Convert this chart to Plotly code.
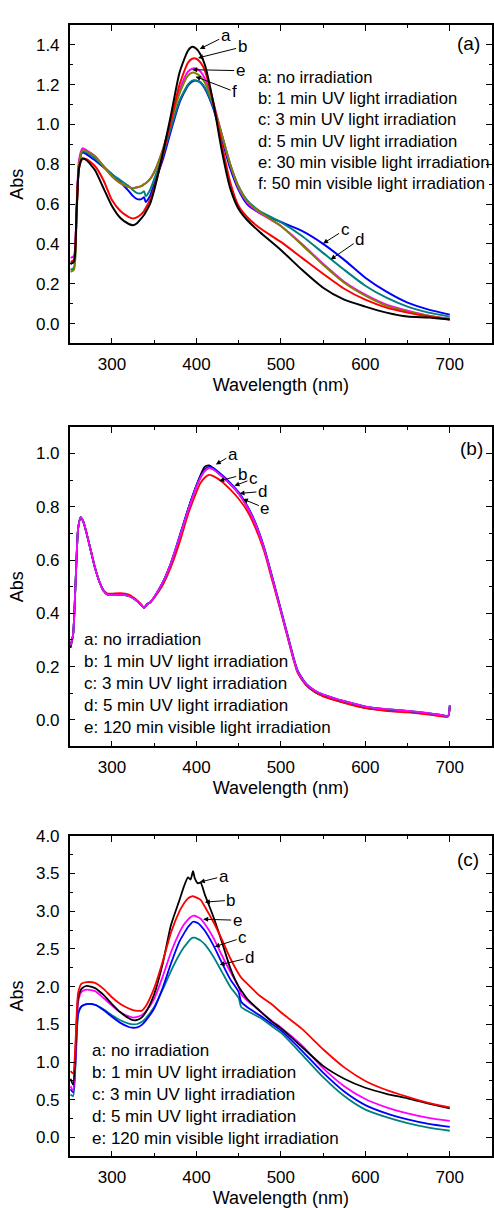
import plotly.graph_objects as go

FONT = "Liberation Sans, Arial, sans-serif"
W, H = 494, 1208

# ---------------- Panel (a) ----------------
wl_a = [251, 255, 258, 261, 265, 270, 280, 290, 300, 310, 320, 325, 330, 335, 338, 340, 345, 350,
        360, 370, 380, 390, 395, 400, 405, 410, 420, 430, 440, 450, 460, 475, 500, 525, 550, 575,
        600, 625, 650, 675, 700]
a_no = [0.30, 0.31, 0.55, 0.78, 0.83, 0.82, 0.77, 0.68, 0.59, 0.53, 0.50, 0.494, 0.505, 0.53, 0.545, 0.56, 0.60, 0.67,
        0.85, 1.05, 1.26, 1.37, 1.39, 1.38, 1.35, 1.30, 1.11, 0.87, 0.68, 0.575, 0.52, 0.46, 0.37, 0.27, 0.18, 0.12,
        0.085, 0.055, 0.035, 0.03, 0.02]
a_uv1 = [0.31, 0.32, 0.55, 0.78, 0.825, 0.825, 0.79, 0.72, 0.62, 0.565, 0.535, 0.528, 0.535, 0.55, 0.565, 0.58, 0.62, 0.68,
         0.84, 1.02, 1.20, 1.31, 1.33, 1.33, 1.31, 1.27, 1.11, 0.90, 0.71, 0.59, 0.535, 0.48, 0.41, 0.33, 0.25, 0.175,
         0.12, 0.08, 0.055, 0.035, 0.02]
a_uv3 = [0.30, 0.31, 0.55, 0.80, 0.86, 0.85, 0.82, 0.785, 0.75, 0.71, 0.665, 0.64, 0.625, 0.625, 0.635, 0.61, 0.64, 0.70,
         0.82, 0.97, 1.11, 1.195, 1.215, 1.22, 1.21, 1.18, 1.08, 0.93, 0.78, 0.67, 0.60, 0.555, 0.51, 0.465, 0.40, 0.32,
         0.23, 0.16, 0.105, 0.07, 0.045]
a_uv5 = [0.27, 0.28, 0.55, 0.80, 0.865, 0.86, 0.83, 0.79, 0.75, 0.72, 0.69, 0.67, 0.655, 0.655, 0.665, 0.64, 0.67, 0.725,
         0.84, 0.985, 1.12, 1.20, 1.22, 1.22, 1.21, 1.185, 1.09, 0.95, 0.80, 0.69, 0.62, 0.565, 0.51, 0.44, 0.355, 0.27,
         0.19, 0.13, 0.085, 0.055, 0.035]
a_vis30 = [0.33, 0.34, 0.57, 0.82, 0.88, 0.87, 0.84, 0.79, 0.74, 0.705, 0.685, 0.68, 0.685, 0.69, 0.70, 0.705, 0.725, 0.76,
           0.87, 1.02, 1.17, 1.265, 1.28, 1.28, 1.265, 1.23, 1.11, 0.95, 0.80, 0.68, 0.61, 0.555, 0.49, 0.40, 0.30, 0.21,
           0.145, 0.095, 0.065, 0.04, 0.025]
a_vis50 = [0.26, 0.27, 0.52, 0.80, 0.87, 0.865, 0.84, 0.79, 0.74, 0.705, 0.685, 0.68, 0.685, 0.69, 0.70, 0.705, 0.725, 0.76,
           0.87, 1.015, 1.155, 1.245, 1.26, 1.255, 1.24, 1.21, 1.10, 0.95, 0.80, 0.685, 0.615, 0.56, 0.49, 0.395, 0.295, 0.205,
           0.14, 0.09, 0.06, 0.04, 0.02]
legend_a = ["a: no irradiation", "b: 1 min UV light irradiation", "c: 3 min UV light irradiation",
            "d: 5 min UV light irradiation", "e: 30 min visible light irradiation",
            "f: 50 min visible light irradiation"]

# ---------------- Panel (b) ----------------
wl_b = [251, 254, 257, 260, 263, 266, 270, 275, 280, 285, 290, 295, 300, 310, 320, 330, 335, 338, 342, 345, 350,
        360, 370, 380, 390, 400, 405, 410, 415, 420, 430, 440, 450, 460, 470, 480, 490, 500, 505, 510, 515, 520,
        530, 540, 550, 575, 600, 625, 650, 675, 690, 698, 700]
b_no = [0.27, 0.32, 0.52, 0.72, 0.76, 0.745, 0.70, 0.635, 0.57, 0.52, 0.485, 0.47, 0.468, 0.47, 0.465, 0.445, 0.43, 0.42, 0.435, 0.44, 0.46,
        0.515, 0.59, 0.685, 0.79, 0.88, 0.92, 0.95, 0.955, 0.945, 0.915, 0.885, 0.85, 0.80, 0.735, 0.645, 0.53, 0.41, 0.35, 0.29, 0.23, 0.18,
        0.13, 0.105, 0.09, 0.065, 0.045, 0.035, 0.03, 0.022, 0.016, 0.013, 0.05]
b_uv1 = [0.28, 0.32, 0.52, 0.72, 0.76, 0.745, 0.70, 0.635, 0.57, 0.52, 0.487, 0.474, 0.474, 0.476, 0.47, 0.448, 0.432, 0.422, 0.436, 0.44, 0.458,
         0.505, 0.575, 0.665, 0.77, 0.855, 0.89, 0.91, 0.92, 0.915, 0.895, 0.865, 0.83, 0.785, 0.72, 0.635, 0.52, 0.405, 0.345, 0.285, 0.225, 0.175,
         0.13, 0.105, 0.088, 0.064, 0.044, 0.034, 0.028, 0.02, 0.013, 0.012, 0.05]
b_uv3 = [0.28, 0.32, 0.52, 0.72, 0.76, 0.745, 0.70, 0.635, 0.57, 0.52, 0.485, 0.47, 0.468, 0.47, 0.465, 0.445, 0.43, 0.42, 0.435, 0.44, 0.46,
         0.515, 0.59, 0.69, 0.79, 0.88, 0.915, 0.94, 0.95, 0.945, 0.92, 0.89, 0.855, 0.805, 0.74, 0.65, 0.535, 0.415, 0.355, 0.295, 0.235, 0.185,
         0.135, 0.11, 0.095, 0.07, 0.05, 0.04, 0.033, 0.024, 0.018, 0.015, 0.055]
b_uv5 = [0.28, 0.32, 0.52, 0.72, 0.76, 0.745, 0.70, 0.635, 0.57, 0.52, 0.485, 0.47, 0.468, 0.47, 0.465, 0.445, 0.43, 0.42, 0.435, 0.44, 0.46,
         0.515, 0.59, 0.685, 0.785, 0.875, 0.91, 0.935, 0.945, 0.94, 0.915, 0.885, 0.85, 0.80, 0.735, 0.645, 0.53, 0.41, 0.35, 0.29, 0.23, 0.18,
         0.135, 0.11, 0.095, 0.07, 0.05, 0.04, 0.034, 0.025, 0.018, 0.015, 0.055]
b_vis120 = [0.28, 0.32, 0.52, 0.72, 0.76, 0.745, 0.70, 0.635, 0.57, 0.52, 0.485, 0.47, 0.468, 0.47, 0.465, 0.445, 0.43, 0.42, 0.435, 0.44, 0.46,
            0.515, 0.59, 0.685, 0.785, 0.875, 0.91, 0.935, 0.945, 0.94, 0.915, 0.885, 0.85, 0.80, 0.735, 0.645, 0.53, 0.41, 0.35, 0.29, 0.23, 0.18,
            0.135, 0.11, 0.095, 0.07, 0.05, 0.04, 0.034, 0.025, 0.018, 0.015, 0.055]
legend_bc = ["a: no irradiation", "b: 1 min UV light irradiation", "c: 3 min UV light irradiation",
             "d: 5 min UV light irradiation", "e: 120 min visible light irradiation"]

# ---------------- Panel (c) ----------------
wl_c = [251, 254, 257, 260, 264, 270, 280, 290, 300, 310, 320, 325, 330, 335, 340, 350, 360, 370, 380, 385,
        390, 393, 396, 398, 402, 405, 410, 420, 430, 440, 450, 453, 460, 475, 490, 500, 525, 550, 575, 600,
        625, 650, 675, 700]
c_no = [0.78, 0.70, 1.20, 1.85, 1.97, 2.01, 1.98, 1.89, 1.77, 1.66, 1.58, 1.555, 1.56, 1.59, 1.66, 1.90, 2.30, 2.82, 3.15, 3.32,
        3.45, 3.42, 3.53, 3.44, 3.37, 3.38, 3.22, 2.93, 2.60, 2.25, 2.00, 1.95, 1.84, 1.68, 1.53, 1.45, 1.20, 0.95, 0.78, 0.66,
        0.58, 0.52, 0.45, 0.385]
c_uv1 = [0.88, 0.85, 1.30, 1.92, 2.04, 2.06, 2.05, 1.97, 1.86, 1.77, 1.71, 1.69, 1.68, 1.68, 1.74, 1.98, 2.33, 2.72, 3.00, 3.10,
         3.17, 3.19, 3.20, 3.19, 3.17, 3.15, 3.06, 2.86, 2.63, 2.38, 2.17, 2.12, 2.04, 1.88, 1.76, 1.66, 1.44, 1.17, 0.93, 0.75,
         0.63, 0.54, 0.46, 0.40]
c_uv3 = [0.64, 0.60, 1.05, 1.65, 1.74, 1.77, 1.76, 1.69, 1.60, 1.52, 1.465, 1.455, 1.46, 1.49, 1.55, 1.71, 1.98, 2.31, 2.60, 2.70,
         2.79, 2.83, 2.86, 2.86, 2.84, 2.81, 2.74, 2.55, 2.32, 2.10, 1.93, 1.80, 1.73, 1.62, 1.50, 1.42, 1.15, 0.86, 0.61, 0.43,
         0.32, 0.24, 0.18, 0.14]
c_uv5 = [0.57, 0.55, 1.00, 1.63, 1.74, 1.77, 1.76, 1.70, 1.62, 1.555, 1.51, 1.50, 1.505, 1.53, 1.58, 1.73, 1.96, 2.21, 2.43, 2.52,
         2.59, 2.63, 2.65, 2.65, 2.63, 2.61, 2.56, 2.40, 2.20, 2.00, 1.85, 1.73, 1.68, 1.59, 1.47, 1.39, 1.10, 0.80, 0.55, 0.37,
         0.27, 0.19, 0.13, 0.09]
c_vis120 = [0.68, 0.62, 1.10, 1.80, 1.93, 1.96, 1.94, 1.85, 1.75, 1.66, 1.605, 1.59, 1.60, 1.62, 1.67, 1.84, 2.13, 2.46, 2.72, 2.82,
            2.89, 2.92, 2.94, 2.94, 2.92, 2.90, 2.83, 2.65, 2.42, 2.20, 2.00, 1.90, 1.82, 1.68, 1.54, 1.46, 1.22, 0.92, 0.68, 0.51,
            0.40, 0.32, 0.26, 0.22]

BLACK, RED, BLUE, TEAL, MAG, OLIVE = "#000000", "#ff0000", "#0000ff", "#008080", "#ff00ff", "#808000"

fig = go.Figure()

def add(x, y, color, xa, ya, width=2.0):
    fig.add_trace(go.Scatter(x=x, y=y, mode="lines", xaxis=xa, yaxis=ya, showlegend=False,
                             line=dict(color=color, width=width, shape="spline", smoothing=0.6)))

for ys, col in [(a_uv3, BLUE), (a_uv5, TEAL), (a_vis30, MAG), (a_vis50, OLIVE), (a_uv1, RED), (a_no, BLACK)]:
    add(wl_a, ys, col, "x", "y")
for ys, col in [(b_no, BLACK), (b_uv1, RED), (b_uv3, BLUE), (b_uv5, TEAL), (b_vis120, MAG)]:
    add(wl_b, ys, col, "x2", "y2", 1.8)
for ys, col in [(c_uv5, TEAL), (c_uv3, BLUE), (c_vis120, MAG), (c_no, BLACK), (c_uv1, RED)]:
    add(wl_c, ys, col, "x3", "y3", 1.8)

def ydom(top, bottom):
    return [1 - bottom / H, 1 - top / H]

xdom = [70 / W, 1.0]

def xaxis(anchor):
    return dict(domain=xdom, anchor=anchor, range=[250, 750], dtick=100, tick0=0,
                showline=True, linecolor="black", linewidth=1.5, mirror="ticks",
                ticks="inside", ticklen=6, tickwidth=1.3, tickcolor="black",
                minor=dict(ticks="inside", ticklen=3.5, tickwidth=1.1, tickcolor="black", dtick=50),
                showgrid=False, zeroline=False, ticklabelstandoff=4,
                tickfont=dict(size=17, family=FONT, color="black"),
                title=dict(text="Wavelength (nm)", font=dict(size=18, family=FONT, color="black"), standoff=6))

def yaxis(anchor, dom, rng, dt, mdt):
    return dict(domain=dom, anchor=anchor, range=rng, dtick=dt, tick0=0, tickformat=".1f",
                showline=True, linecolor="black", linewidth=1.5, mirror="ticks",
                ticks="inside", ticklen=6, tickwidth=1.3, tickcolor="black",
                minor=dict(ticks="inside", ticklen=3.5, tickwidth=1.1, tickcolor="black", dtick=mdt),
                showgrid=False, zeroline=False, ticklabelstandoff=5,
                tickfont=dict(size=17, family=FONT, color="black"),
                title=dict(text="Abs", font=dict(size=18, family=FONT, color="black"), standoff=8))

annotations = []

def txt(px, py, s, size=17, xanchor="left"):
    annotations.append(dict(x=px / W, y=1 - py / H, xref="paper", yref="paper", text=s, showarrow=False,
                            xanchor=xanchor, yanchor="middle", font=dict(size=size, family=FONT, color="black")))

def arrow(xr, yr, x, y, ax, ay, s):
    annotations.append(dict(x=x, y=y, xref=xr, yref=yr, ax=ax, ay=ay, text=s, showarrow=True,
                            arrowhead=2, arrowsize=1, arrowwidth=1, arrowcolor="black", standoff=0,
                            font=dict(size=17, family=FONT, color="black")))

# legends as text
for i, s in enumerate(legend_a):
    txt(257, 69 + i * 21.4, s, 16.6)
for i, s in enumerate(legend_bc):
    txt(82, 635 + i * 22.2, s)
for i, s in enumerate(legend_bc):
    txt(90, 1049 + i * 22.2, s)

txt(470, 35, "(a)", 19, "center")
txt(473, 443, "(b)", 19, "center")
txt(470, 857, "(c)", 19, "center")

# curve labels with arrows
arrow("x", "y", 404, 1.379, 26, -13, "a")
arrow("x", "y", 402, 1.334, 44, -11, "b")
arrow("x", "y", 395, 1.275, 48, 1, "e")
arrow("x", "y", 399, 1.240, 39, 15, "f")
arrow("x", "y", 550, 0.402, 22, -14, "c")
arrow("x", "y", 559, 0.322, 29, -20, "d")

arrow("x2", "y2", 423, 0.959, 17, -10, "a")
arrow("x2", "y2", 427, 0.897, 23, -6, "b")
arrow("x2", "y2", 445, 0.879, 19, -7, "c")
arrow("x2", "y2", 451, 0.850, 23, -2, "d")
arrow("x2", "y2", 455, 0.829, 22, 9, "e")

arrow("x3", "y3", 404, 3.386, 24, -6, "a")
arrow("x3", "y3", 410, 3.12, 26, -2, "b")
arrow("x3", "y3", 408, 2.894, 34, 1, "e")
arrow("x3", "y3", 421.6, 2.53, 28, -9, "c")
arrow("x3", "y3", 427.5, 2.29, 30, -7, "d")

fig.update_layout(
    width=W, height=H, margin=dict(l=0, r=0, t=0, b=0),
    paper_bgcolor="white", plot_bgcolor="white",
    xaxis=xaxis("y"), yaxis=yaxis("x", ydom(16, 337), [-0.1, 1.5], 0.2, 0.1),
    xaxis2=xaxis("y2"), yaxis2=yaxis("x2", ydom(421, 743), [-0.1, 1.1], 0.2, 0.1),
    xaxis3=xaxis("y3"), yaxis3=yaxis("x3", ydom(833, 1156), [-0.25, 4.0], 0.5, 0.25),
    annotations=annotations,
)

fig.write_html("out.html")
